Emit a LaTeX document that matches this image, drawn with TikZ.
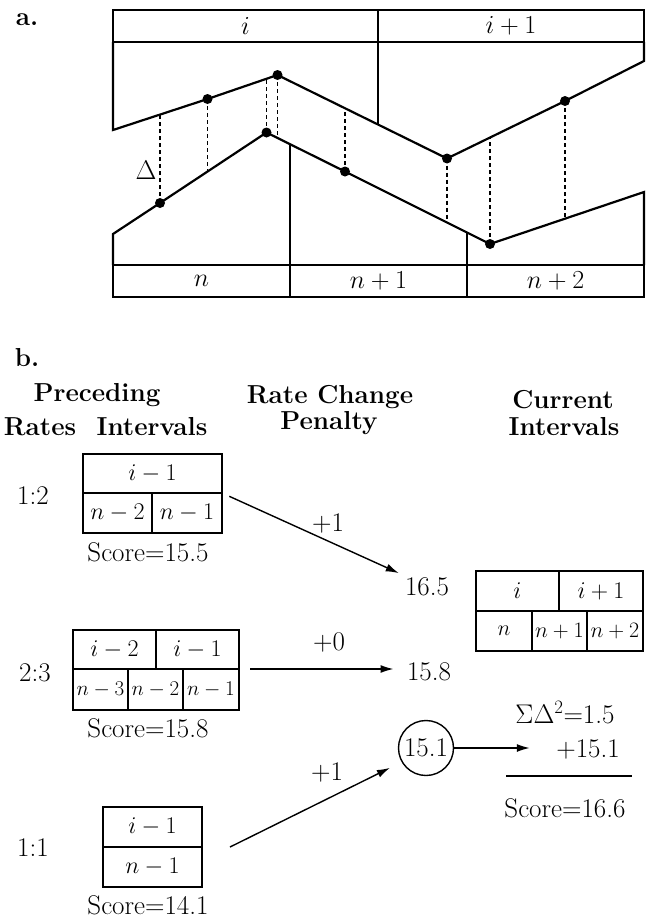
\RequirePackage{fix-cm}
\documentclass[tikz,border=0pt]{standalone}
\usetikzlibrary{calc,arrows.meta}

\begin{document}
\begin{tikzpicture}[
  x=1pt, y=-1pt,
  every node/.style={font=\fontsize{27}{32}\selectfont},
  cell/.style={draw, line width=2.2pt, inner sep=0pt, outer sep=0pt, font=\fontsize{26}{31}\selectfont},
  slot/.style={draw, line width=2.2pt, inner sep=0pt, outer sep=0pt, font=\fontsize{24}{29}\selectfont},
  trace/.style={line width=2.2pt},
  gap/.style={line width=1.8pt, dash pattern=on 4pt off 3pt},
  dot/.style={circle, fill, inner sep=0pt, minimum size=10pt},
  arrow/.style={->, line width=1.4pt, >={Latex[length=13pt, width=8pt]}},
  heading/.style={font=\fontsize{26}{31}\selectfont\bfseries}
]
  \useasboundingbox (0,0) rectangle (648,918);

  % Part a: interval boxes
  \node[heading] (la) at (27,20) {a.};
  \node[cell, minimum width=265, minimum height=32] (ti) at (245.5,26) {$i$};
  \node[cell, minimum width=266, minimum height=32] (tii) at (511,26) {$i+1$};
  \node[cell, minimum width=177, minimum height=32] (bn) at (201.5,281) {$n$};
  \node[cell, minimum width=177, minimum height=32] (bn1) at (378.5,281) {$n+1$};
  \node[cell, minimum width=177, minimum height=32] (bn2) at (555.5,281) {$n+2$};

  % Rate traces
  \coordinate (u0) at (113,130);
  \coordinate (u1) at (207.5,99);
  \coordinate (u2) at (277.5,75);
  \coordinate (u3) at (447,158.5);
  \coordinate (u4) at (565,101);
  \coordinate (u5) at (644,61);
  \coordinate (l0) at (113,234);
  \coordinate (l1) at (160,203);
  \coordinate (l2) at (266.5,132.5);
  \coordinate (l3) at (345,171.5);
  \coordinate (l4) at (490,244);
  \coordinate (l5) at (644,192);
  \draw[trace] (ti.south west) -- (u0) -- (u1) -- (u2) -- (u3) -- (u4) -- (u5) -- (tii.south east);
  \draw[trace] (bn.north west) -- (l0) -- (l1) -- (l2) -- (l3) -- (l4) -- (l5) -- (bn2.north east);

  % Interval borders
  \coordinate (um) at ($(u2)!.593!(u3)$);
  \draw[trace] (ti.south east) -- (ti.south east |- um);
  \coordinate (lm1) at ($(l2)!.299!(l3)$);
  \draw[trace] (bn.north east) -- (bn.north east |- lm1);
  \coordinate (lm2) at ($(l3)!.839!(l4)$);
  \draw[trace] (bn1.north east) -- (bn1.north east |- lm2);

  % Differences
  \foreach \p/\a/\b/\t in {l1/u0/u1/.497, u1/l1/l2/.446, l2/u1/u2/.843, u2/l2/l3/.140,
                           l3/u2/u3/.398, u3/l3/l4/.703, l4/u3/u4/.364, u4/l4/l5/.487}{
    \coordinate (q) at ($(\a)!\t!(\b)$);
    \draw[gap] (\p) -- (\p |- q);
  }
  \foreach \p in {u1,u2,u3,u4,l1,l2,l3,l4}
    \node[dot] (d\p) at (\p) {};
  \node (delta) at (146,170) {$\Delta$};

  % Part b: headings
  \node[heading] (lb) at (27,358) {b.};
  \node[heading] (hprec) at (97,395) {Preceding};
  \node[heading] (hrate) at (40,427) {Rates};
  \node[heading] (hint) at (152,427) {Intervals};
  \node[heading] (hrc) at (330,397) {Rate Change};
  \node[heading] (hpen) at (329,423) {Penalty};
  \node[heading] (hcur) at (563,400) {Current};
  \node[heading] (hcint) at (564,427) {Intervals};

  % Preceding 1:2
  \node (r12) at (33,496) {1:2};
  \node[slot, minimum width=139, minimum height=39] (p12t) at (152.5,473.5) {$i-1$};
  \node[slot, minimum width=69, minimum height=40] (p12a) at (117.5,513) {$n-2$};
  \node[slot, minimum width=70, minimum height=40] (p12b) at (187,513) {$n-1$};
  \node (s12) at (148,552) {Score=15.5};

  % Preceding 2:3
  \node (r23) at (35,673) {2:3};
  \node[slot, minimum width=83, minimum height=39] (p23t1) at (114.5,649.5) {$i-2$};
  \node[slot, minimum width=83, minimum height=39] (p23t2) at (197.5,649.5) {$i-1$};
  \node[slot, font=\fontsize{21}{25}\selectfont, minimum width=55, minimum height=41] (p23a) at (100.5,689.5) {$n-3$};
  \node[slot, font=\fontsize{21}{25}\selectfont, minimum width=55, minimum height=41] (p23b) at (155.5,689.5) {$n-2$};
  \node[slot, font=\fontsize{21}{25}\selectfont, minimum width=56, minimum height=41] (p23c) at (211,689.5) {$n-1$};
  \node (s23) at (148,728) {Score=15.8};

  % Preceding 1:1
  \node (r11) at (33,848) {1:1};
  \node[slot, minimum width=99, minimum height=40] (p11t) at (152.5,827) {$i-1$};
  \node[slot, minimum width=99, minimum height=40] (p11b) at (152.5,867) {$n-1$};
  \node (s11) at (148,905) {Score=14.1};

  % Current intervals
  \node[slot, minimum width=83, minimum height=40] (ci) at (517.5,591) {$i$};
  \node[slot, minimum width=84, minimum height=40] (cii) at (601,591) {$i+1$};
  \node[slot, font=\fontsize{22}{26}\selectfont, minimum width=56, minimum height=40] (cn) at (504,631) {$n$};
  \node[slot, font=\fontsize{22}{26}\selectfont, minimum width=55, minimum height=40] (cn1) at (559.5,631) {$n+1$};
  \node[slot, font=\fontsize{22}{26}\selectfont, minimum width=56, minimum height=40] (cn2) at (615,631) {$n+2$};

  % Candidate scores
  \node (v165) at (427,587) {16.5};
  \node (v158) at (429,672) {15.8};
  \node[circle, draw, line width=1.4pt, inner sep=0pt, minimum size=55] (v151) at (426,748) {15.1};
  \node (pen1) at (328,523) {+1};
  \node (pen0) at (329,642) {+0};
  \node (pen2) at (327,772) {+1};

  % Sum
  \node (ssq) at (565,713) {$\Sigma\Delta^2$=1.5};
  \node (sadd) at (588,749) {+15.1};
  \node (stot) at (565,808) {Score=16.6};
  \draw[line width=1.4pt] (506,776) -- (632,776);

  % Transitions
  \draw[arrow, shorten <=8pt, shorten >=3pt] (p12b.north east) -- (v165.north west);
  \draw[arrow, shorten <=11pt, shorten >=10pt] (p23c.north east) -- (p23c.north east -| v158.west);
  \draw[arrow, shorten >=13pt] ($(p11b.north east)+(28,0)$) -- (v151.210);
  \draw[arrow, shorten >=23pt] (v151) -- (v151 -| sadd.west);

\end{tikzpicture}
\end{document}
